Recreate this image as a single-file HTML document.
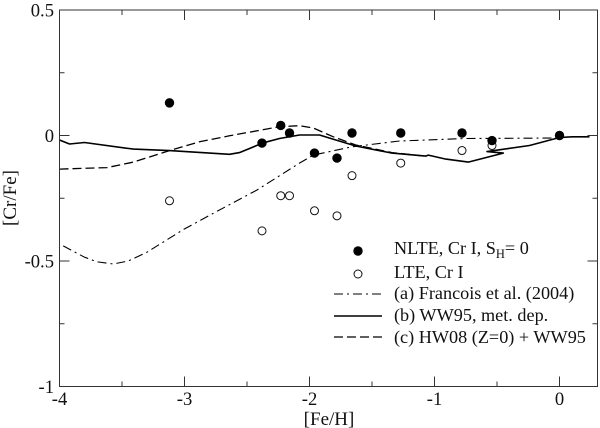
<!DOCTYPE html>
<html>
<head>
<meta charset="utf-8">
<title>[Cr/Fe] vs [Fe/H]</title>
<style>
html,body{margin:0;padding:0;background:#fff;}
svg{display:block;}
text{font-family:"Liberation Serif",serif;fill:#111;}
.tick{font-size:18.6px;}
.leg{font-size:18.2px;}
</style>
</head>
<body>
<svg id="chart" width="600" height="428" viewBox="0 0 600 428" xmlns="http://www.w3.org/2000/svg">
<g id="marks"></g>
<g id="axes"></g>
<text x="329" y="425" text-anchor="middle" style="font-size:19px">[Fe/H]</text>
<text transform="translate(16,198) rotate(-90)" text-anchor="middle" style="font-size:19px">[Cr/Fe]</text>
<g id="legend">
<circle cx="358" cy="251" r="4.7" fill="#000"/>
<text class="leg" x="394" y="254">NLTE, Cr I, S<tspan dy="4" font-size="12.5">H</tspan><tspan dy="-4">= 0</tspan></text>
<circle cx="358" cy="274" r="4" fill="#fff" stroke="#111" stroke-width="1"/>
<text class="leg" x="394" y="278">LTE, Cr I</text>
<line x1="334" x2="382" y1="294" y2="294" stroke="#000" stroke-width="1.1" stroke-dasharray="9,4,2,4"/>
<text class="leg" x="394" y="299">(a) Francois et al. (2004)</text>
<line x1="334" x2="382" y1="316" y2="316" stroke="#000" stroke-width="1.6"/>
<text class="leg" x="394" y="321">(b) WW95, met. dep.</text>
<line x1="334" x2="382" y1="337" y2="337" stroke="#000" stroke-width="1.3" stroke-dasharray="9,4"/>
<text class="leg" x="394" y="343">(c) HW08 (Z=0) + WW95</text>
</g>
</svg>
<script>
var nlteFe = [-3.12,-2.38,-2.23,-2.16,-1.96,-1.78,-1.66,-1.27,-0.78,-0.54,0];
var nlteCr = [0.13,-0.03,0.04,0.01,-0.07,-0.09,0.01,0.01,0.01,-0.02,0];
var lteFe = [-3.12,-2.38,-2.23,-2.16,-1.96,-1.78,-1.66,-1.27,-0.78,-0.54];
var lteCr = [-0.26,-0.38,-0.24,-0.24,-0.30,-0.32,-0.16,-0.11,-0.06,-0.04];
var lineAFe = [-3.97,-3.8,-3.7,-3.57,-3.45,-3.3,-3.01,-2.77,-2.42,-2.08,-1.97,-1.66,-1.28,-0.75,0];
var lineACr = [-0.44,-0.485,-0.503,-0.512,-0.5,-0.465,-0.375,-0.31,-0.217,-0.11,-0.078,-0.045,-0.022,-0.012,-0.01];
var lineBFe = [-4,-3.92,-3.8,-3.41,-3.12,-2.64,-2.56,-2.37,-2.24,-2.08,-1.92,-1.79,-1.63,-1.34,-1.07,-1.05,-0.91,-0.73,-0.45,-0.58,-0.24,0,0.1,0.24];
var lineBCr = [-0.018,-0.034,-0.028,-0.054,-0.06,-0.075,-0.068,-0.029,-0.012,0.002,0.002,-0.018,-0.042,-0.07,-0.082,-0.078,-0.094,-0.106,-0.07,-0.064,-0.04,-0.008,-0.005,-0.005];
var lineCFe = [-4,-3.62,-3.41,-3.12,-2.88,-2.64,-2.24,-2.08,-1.97,-1.81,-1.63,-1.34,-1.08];
var lineCCr = [-0.134,-0.128,-0.106,-0.06,-0.025,-0.001,0.035,0.039,0.03,-0.005,-0.038,-0.068,-0.082];
var xMajorTicks = [-4,-3,-2,-1,0];
var xMinorTicks = [-3.5,-2.5,-1.5,-0.5];
var yMajorTicks = [0.5,0,-0.5,-1];
var yMinorTicks = [0.25,-0.25,-0.75];
var yTickLabels = ['0.5','0','-0.5','-1'];
var xTickLabels = ['-4','-3','-2','-1','0'];

var NS = 'http://www.w3.org/2000/svg';
var left = 59.5, right = 597.5, top0 = 10, bottom = 386.5;
function sx(v){ return left + (v + 4) * 125; }
function sy(v){ return 135.5 - v * 251; }
function mk(tag, attrs, parent){
  var el = document.createElementNS(NS, tag);
  for (var k in attrs) el.setAttribute(k, attrs[k]);
  parent.appendChild(el);
  return el;
}
var marks = document.getElementById('marks');
var axes = document.getElementById('axes');

function drawLine(xs, ys, width, dash, name){
  var d = xs.map(function(x, i){ return (i ? 'L' : 'M') + sx(x).toFixed(1) + ' ' + sy(ys[i]).toFixed(1); }).join(' ');
  var p = mk('path', {d: d, fill: 'none', stroke: '#000', 'stroke-width': width, 'stroke-linejoin': 'round'}, marks);
  if (dash) p.setAttribute('stroke-dasharray', dash);
  
  
}
drawLine(lineAFe, lineACr, 1.1, '9,4,2,4', 'line-a-francois');
drawLine(lineCFe, lineCCr, 1.3, '9,4', 'line-c-hw08');
drawLine(lineBFe, lineBCr, 1.6, null, 'line-b-ww95');

lteFe.forEach(function(x, i){
  var c = mk('circle', {cx: sx(x), cy: sy(lteCr[i]), r: 4, fill: '#fff', stroke: '#111', 'stroke-width': 1}, marks);
  
  
});
nlteFe.forEach(function(x, i){
  var c = mk('circle', {cx: sx(x), cy: sy(nlteCr[i]), r: 4.7, fill: '#000'}, marks);
  
  
});

var frame = mk('rect', {x: left, y: top0, width: right - left, height: bottom - top0, fill: 'none', stroke: '#333', 'stroke-width': 1}, axes);



function xTick(v, len){
  var x = sx(v);
  var a = mk('line', {x1: x, x2: x, y1: bottom, y2: bottom - len, stroke: '#333', 'stroke-width': 1}, axes);
  
  
  var b = mk('line', {x1: x, x2: x, y1: top0, y2: top0 + len, stroke: '#333', 'stroke-width': 1}, axes);
  
  
}
function yTick(v, len){
  var y = sy(v);
  var a = mk('line', {x1: left, x2: left + len, y1: y, y2: y, stroke: '#333', 'stroke-width': 1}, axes);
  
  
  var b = mk('line', {x1: right, x2: right - len, y1: y, y2: y, stroke: '#333', 'stroke-width': 1}, axes);
  
  
}
xMajorTicks.forEach(function(v){ xTick(v, 10); });
xMinorTicks.forEach(function(v){ xTick(v, 5); });
yMajorTicks.forEach(function(v){ yTick(v, 10); });
yMinorTicks.forEach(function(v){ yTick(v, 5); });

xMajorTicks.forEach(function(v, i){
  var t = mk('text', {x: sx(v), y: 405, 'text-anchor': 'middle', 'class': 'tick'}, axes);
  t.textContent = xTickLabels[i];
  
  
});
yMajorTicks.forEach(function(v, i){
  var t = mk('text', {x: 54, y: sy(v) + 6.5, 'text-anchor': 'end', 'class': 'tick'}, axes);
  t.textContent = yTickLabels[i];
  
  
});
</script>
</body>
</html>
